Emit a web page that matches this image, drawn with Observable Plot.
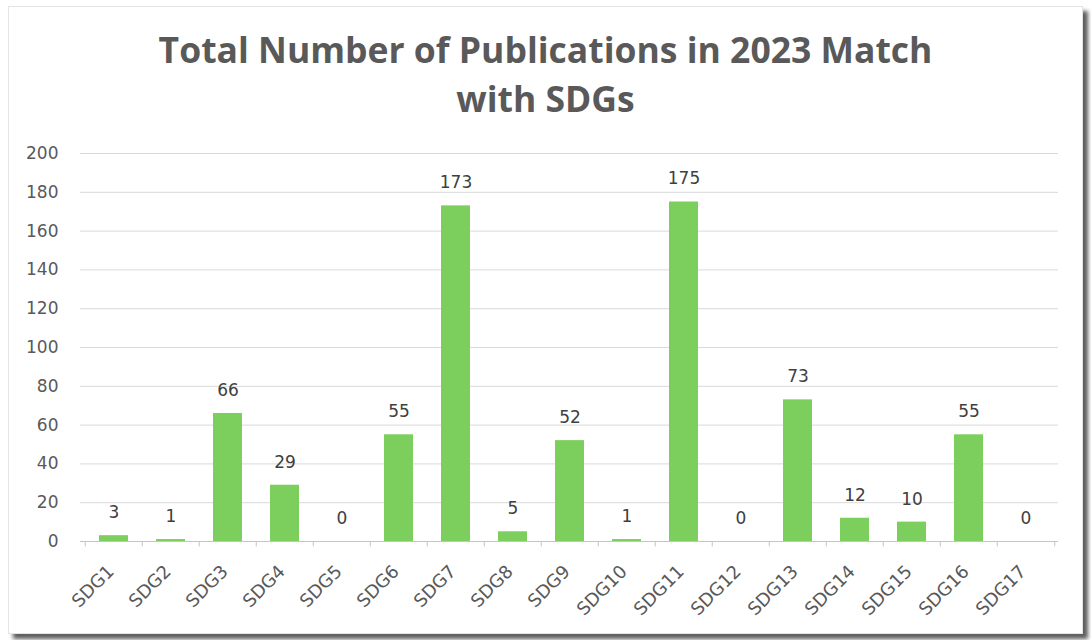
<!DOCTYPE html>
<html>
<head>
<meta charset="utf-8">
<script src="https://cdn.jsdelivr.net/npm/d3@7"></script>
<script src="https://cdn.jsdelivr.net/npm/@observablehq/plot@0.6"></script>
<style>
  html, body { margin: 0; padding: 0; background: #ffffff; width: 1091px; height: 640px; overflow: hidden; }
  #card { position: absolute; left: 8px; top: 6px; width: 1073px; height: 626px; background: #ffffff;
          border: 1px solid #e4e4e4; box-shadow: 5px 5px 4px rgba(40,40,40,0.75); }
  #title { position: absolute; left: 0; top: 25px; width: 1091px; text-align: center;
           font-family: 'Open Sans', sans-serif; font-weight: 700; font-size: 35.5px; line-height: 49px; color: #595959; }
  #chart { position: absolute; left: 0; top: 135px; }
</style>
</head>
<body>
<div id="card"></div>
<div id="title">Total Number of Publications in 2023 Match<br>with SDGs</div>
<div id="chart"></div>
<script>
const categories = ["SDG1","SDG2","SDG3","SDG4","SDG5","SDG6","SDG7","SDG8","SDG9","SDG10","SDG11","SDG12","SDG13","SDG14","SDG15","SDG16","SDG17"];
const publications = [3, 1, 66, 29, 0, 55, 173, 5, 52, 1, 175, 0, 73, 12, 10, 55, 0];
const yTicks = [0, 20, 40, 60, 80, 100, 120, 140, 160, 180, 200];

const data = categories.map((c, i) => ({sdg: c, value: publications[i]}));
const W = 1091, H = 495, mL = 80, mR = 33;
const step = (W - mL - mR) / categories.length;
const font = "'DejaVu Sans', sans-serif";

const plot = Plot.plot({
  width: W, height: H,
  marginLeft: mL, marginRight: mR, marginTop: 18, marginBottom: 89,
  style: { fontFamily: font, fontSize: "17px", color: "#595959", background: "transparent" },
  x: { domain: categories, paddingInner: 0.5, paddingOuter: 0.25, label: null, axis: null },
  y: { domain: [0, 200], label: null, axis: null },
  marks: [
    Plot.gridY(yTicks, { stroke: "#d9d9d9", strokeOpacity: 1, strokeWidth: 1 }),
    Plot.axisY(yTicks, { tickSize: 0, tickPadding: 22, label: null, fill: "#595959", fontSize: 17 }),
    Plot.barY(data, { x: "sdg", y: "value", fill: "#7ccf5c" }),
    Plot.ruleY([0], { stroke: "#c4c4c4", strokeWidth: 1 }),
    Plot.ruleX(categories, { x: d => d, y1: 0, y2: -2.8, stroke: "#c4c4c4", dx: -step / 2 }),
    Plot.ruleX([categories[categories.length - 1]], { x: d => d, y1: 0, y2: -2.8, stroke: "#c4c4c4", dx: step / 2 }),
    Plot.text(data, { x: "sdg", y: "value", text: d => String(d.value), dy: -23, fill: "#404040", fontSize: 17, textAnchor: "middle", lineAnchor: "middle" }),
    Plot.text(categories, { x: d => d, y: () => 0, text: d => d, rotate: -45, textAnchor: "end", lineAnchor: "middle", dx: -3, dy: 27, fill: "#595959", fontSize: 18 })
  ]
});
document.getElementById("chart").appendChild(plot);
</script>
</body>
</html>
